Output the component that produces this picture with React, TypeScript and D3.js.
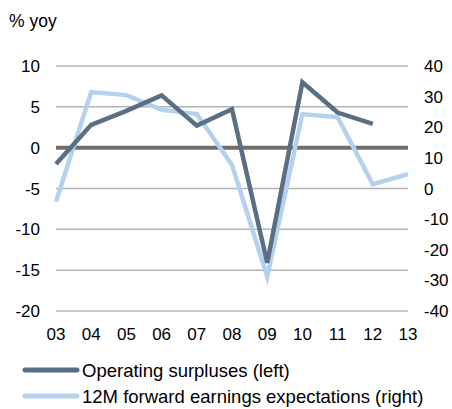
import React from 'react';
import * as d3 from 'd3';

const years = ['03', '04', '05', '06', '07', '08', '09', '10', '11', '12', '13'];
const leftTicks = [10, 5, 0, -5, -10, -15, -20];
const rightTicks = [40, 30, 20, 10, 0, -10, -20, -30, -40];

// Operating surpluses (left), 03..12
const surpluses = [-2, 2.8, 4.5, 6.4, 2.7, 4.7, -14.1, 8.0, 4.3, 2.9];
// 12M forward earnings expectations (right), 03..13
const earnings = [-4.3, 31.5, 30.5, 25.7, 24.3, 7.7, -28.8, 24.3, 23.3, 1.4, 4.7];

const DARK = '#5b6f82';
const LIGHT = '#b4d2ef';

export default function App() {
  const width = 452;
  const height = 409;
  const margin = { top: 66, right: 44, bottom: 98, left: 56 };

  const x = d3.scalePoint<string>()
    .domain(years)
    .range([margin.left, width - margin.right]);
  const yL = d3.scaleLinear().domain([-20, 10]).range([height - margin.bottom, margin.top]);
  const yR = d3.scaleLinear().domain([-40, 40]).range([height - margin.bottom, margin.top]);

  const lineL = d3.line<number>()
    .x((d, i) => x(years[i]) as number)
    .y((d) => yL(d));
  const lineR = d3.line<number>()
    .x((d, i) => x(years[i]) as number)
    .y((d) => yR(d));

  const font = 'Liberation Sans, Arial, sans-serif';
  const x0 = margin.left;
  const x1 = width - margin.right;

  return (
    <svg width={width} height={height} style={{ position: 'absolute', left: 0, top: 0 }}
      fontFamily={font} fontSize={17} fill="#000">
      <rect width={width} height={height} fill="#fff" />
      <text x={9} y={27} fontSize={17.5}>% yoy</text>

      {/* gridlines */}
      {leftTicks.map((t) => (
        <line key={t} x1={x0} x2={x1} y1={yL(t)} y2={yL(t)}
          stroke="#b3b3b3" strokeWidth={1.5} />
      ))}
      <line x1={x0} x2={x1} y1={yL(0)} y2={yL(0)} stroke="#6e6e6e" strokeWidth={4} />

      {/* left axis labels */}
      {leftTicks.map((t) => (
        <text key={t} x={40} y={yL(t)} dy="0.36em" textAnchor="end">{t}</text>
      ))}
      {/* right axis labels */}
      {rightTicks.map((t) => (
        <text key={t} x={424} y={yR(t)} dy="0.36em" textAnchor="start">{t}</text>
      ))}
      {/* x labels */}
      {years.map((yr) => (
        <text key={yr} x={x(yr)} y={340} textAnchor="middle">{yr}</text>
      ))}

      <path d={lineR(earnings) || ''} fill="none" stroke={LIGHT} strokeWidth={4.5}
        strokeLinejoin="miter" />
      <path d={lineL(surpluses) || ''} fill="none" stroke={DARK} strokeWidth={4.5}
        strokeLinejoin="miter" />

      {/* legend */}
      <g fontSize={18.5}>
        <line x1={25} x2={77} y1={370} y2={370} stroke={DARK} strokeWidth={5} strokeLinecap="round" />
        <text x={82} y={370} dy="0.36em">Operating surpluses (left)</text>
        <line x1={25} x2={77} y1={396} y2={396} stroke={LIGHT} strokeWidth={5} strokeLinecap="round" />
        <text x={82} y={396} dy="0.36em">12M forward earnings expectations (right)</text>
      </g>
    </svg>
  );
}
